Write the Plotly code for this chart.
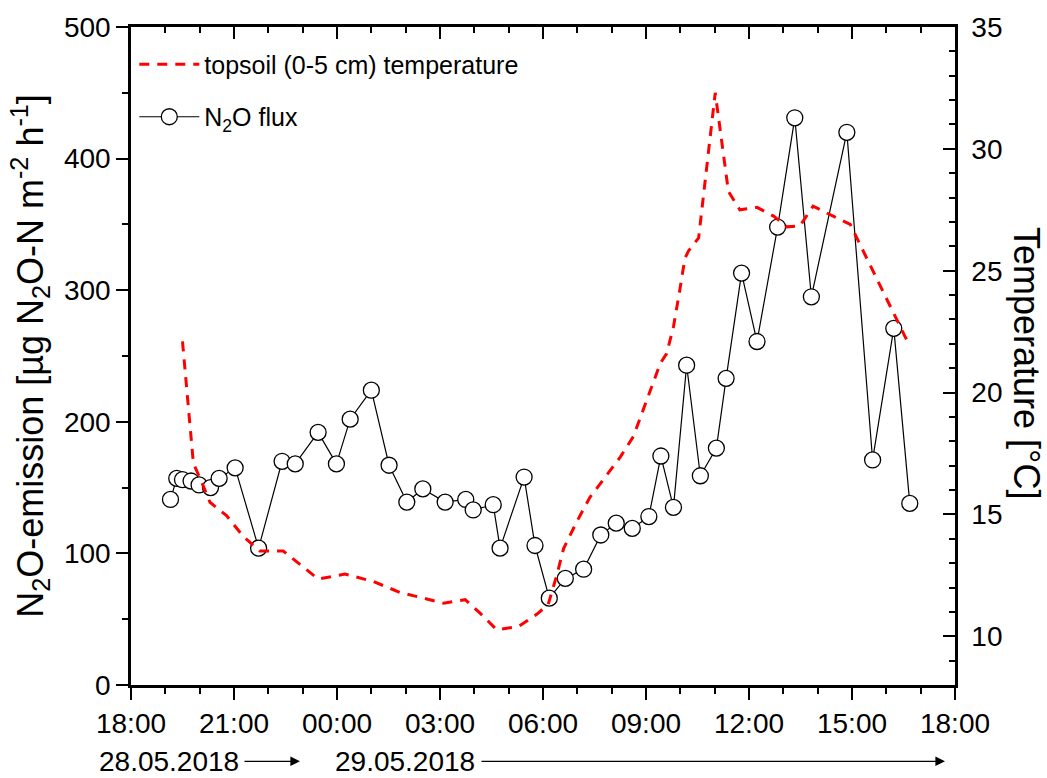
import plotly.graph_objects as go

# ---------------- data ----------------
flux_times = [
    "2018-05-28 19:09", "2018-05-28 19:20", "2018-05-28 19:30", "2018-05-28 19:45",
    "2018-05-28 19:59", "2018-05-28 20:19", "2018-05-28 20:34", "2018-05-28 21:02",
    "2018-05-28 21:43", "2018-05-28 22:24", "2018-05-28 22:47", "2018-05-28 23:27",
    "2018-05-28 23:59", "2018-05-29 00:23", "2018-05-29 01:00", "2018-05-29 01:31",
    "2018-05-29 02:02", "2018-05-29 02:30", "2018-05-29 03:09", "2018-05-29 03:45",
    "2018-05-29 03:58", "2018-05-29 04:33", "2018-05-29 04:45", "2018-05-29 05:27",
    "2018-05-29 05:46", "2018-05-29 06:11", "2018-05-29 06:39", "2018-05-29 07:11",
    "2018-05-29 07:41", "2018-05-29 08:08", "2018-05-29 08:36", "2018-05-29 09:05",
    "2018-05-29 09:26", "2018-05-29 09:48", "2018-05-29 10:11", "2018-05-29 10:35",
    "2018-05-29 11:03", "2018-05-29 11:20", "2018-05-29 11:47", "2018-05-29 12:14",
    "2018-05-29 12:50", "2018-05-29 13:20", "2018-05-29 13:49", "2018-05-29 14:51",
    "2018-05-29 15:36", "2018-05-29 16:13", "2018-05-29 16:41",
]
flux_values = [
    141, 157, 156, 155, 152, 150, 157, 165, 104, 170, 168, 192, 168,
    202, 224, 167, 139, 149, 139, 141, 133, 137, 104, 158, 106, 66,
    81, 88, 114, 123, 119, 128, 174, 135, 243, 159, 180, 233, 313,
    261, 348, 431, 295, 420, 171, 271, 138,
]

temp_times = [
    "2018-05-28 19:30", "2018-05-28 19:49", "2018-05-28 20:04", "2018-05-28 20:18",
    "2018-05-28 20:47", "2018-05-28 21:16", "2018-05-28 21:45", "2018-05-28 22:26",
    "2018-05-28 23:27", "2018-05-29 00:14", "2018-05-29 01:03", "2018-05-29 01:50",
    "2018-05-29 03:06", "2018-05-29 03:44", "2018-05-29 04:10", "2018-05-29 04:39",
    "2018-05-29 05:17", "2018-05-29 05:49", "2018-05-29 06:09", "2018-05-29 06:24",
    "2018-05-29 06:36", "2018-05-29 06:59", "2018-05-29 07:22", "2018-05-29 07:51",
    "2018-05-29 08:15", "2018-05-29 08:38", "2018-05-29 09:01", "2018-05-29 09:25",
    "2018-05-29 09:36", "2018-05-29 09:48", "2018-05-29 09:59", "2018-05-29 10:08",
    "2018-05-29 10:14", "2018-05-29 10:32", "2018-05-29 11:01", "2018-05-29 11:18",
    "2018-05-29 11:24", "2018-05-29 11:44", "2018-05-29 12:14", "2018-05-29 12:43",
    "2018-05-29 13:06", "2018-05-29 13:29", "2018-05-29 13:52", "2018-05-29 14:27",
    "2018-05-29 14:57", "2018-05-29 15:26", "2018-05-29 16:06", "2018-05-29 16:41",
]
temp_values = [
    22.1, 17.1, 16.3, 15.5, 14.95, 14.1, 13.5, 13.5, 12.35, 12.55, 12.25, 11.8,
    11.36, 11.5, 10.95, 10.27, 10.4, 10.9, 11.3, 12.5, 13.6, 14.7, 15.7, 16.6,
    17.35, 18.2, 19.7, 21.2, 21.6, 22.7, 24.2, 25.5, 25.8, 26.35, 32.3, 29.3,
    28.25, 27.5, 27.6, 27.24, 26.8, 26.84, 27.65, 27.24, 26.9, 25.5, 23.6, 21.9,
]

x_range = ["2018-05-28 18:00", "2018-05-29 18:00"]
date_labels = ["28.05.2018", "29.05.2018"]

FONT = "Arial, Liberation Sans, sans-serif"

fig = go.Figure()

fig.add_trace(go.Scatter(
    x=temp_times, y=temp_values, yaxis="y2", mode="lines",
    name="topsoil (0-5 cm) temperature",
    line=dict(color="#ff0000", width=3, dash="10px,8px"),
    legendgroup="a",
))
fig.add_trace(go.Scatter(
    x=flux_times, y=flux_values, mode="lines+markers",
    name="N<sub>2</sub>O flux",
    line=dict(color="black", width=1.2),
    marker=dict(symbol="circle", size=16, color="white",
                line=dict(color="black", width=1.3)),
    legendgroup="b",
))
# helper trace for the mirrored top axis (invisible)
fig.add_trace(go.Scatter(
    x=x_range, y=[250, 250], xaxis="x2", mode="lines",
    line=dict(width=0), opacity=0, showlegend=False, hoverinfo="skip",
))

tickfont = dict(family=FONT, size=28, color="black")

fig.update_layout(
    width=1047, height=778,
    margin=dict(l=131, r=92, t=21, b=93),
    paper_bgcolor="white", plot_bgcolor="white",
    font=dict(family=FONT, color="black"),
    showlegend=True,
    legend=dict(
        x=0.004, y=0.978, xanchor="left", yanchor="top",
        font=dict(family=FONT, size=25, color="black"),
        bgcolor="rgba(0,0,0,0)", itemwidth=60,
        tracegroupgap=17, traceorder="grouped",
    ),
    xaxis=dict(
        type="date", range=x_range,
        dtick=3 * 3600 * 1000, tick0="2018-05-28 18:00", tickformat="%H:%M",
        ticks="outside", ticklen=12, tickwidth=2, tickcolor="black",
        minor=dict(dtick=3600 * 1000, ticks="outside", ticklen=6,
                   tickwidth=2, tickcolor="black"),
        showline=True, linewidth=2.5, linecolor="black",
        showgrid=False, zeroline=False, tickfont=tickfont,
    ),
    xaxis2=dict(
        type="date", range=x_range, overlaying="x", side="top",
        dtick=3 * 3600 * 1000, tick0="2018-05-28 18:00",
        ticks="inside", ticklen=12, tickwidth=2, tickcolor="black",
        minor=dict(dtick=3600 * 1000, ticks="inside", ticklen=6,
                   tickwidth=2, tickcolor="black"),
        showline=True, linewidth=2.5, linecolor="black",
        showticklabels=False, showgrid=False, zeroline=False,
    ),
    yaxis=dict(
        range=[0, 500], dtick=100, tick0=0,
        ticks="outside", ticklen=12, tickwidth=2, tickcolor="black",
        minor=dict(dtick=50, ticks="outside", ticklen=6,
                   tickwidth=2, tickcolor="black"),
        showline=True, linewidth=2.5, linecolor="black",
        showgrid=False, zeroline=False, tickfont=tickfont,
        title=dict(
            text="N<sub>2</sub>O-emission [µg N<sub>2</sub>O-N m<sup>-2</sup> h<sup>-1</sup>]",
            font=dict(family=FONT, size=36, color="black"), standoff=10,
        ),
    ),
    yaxis2=dict(
        range=[8, 35], overlaying="y", side="right",
        tickvals=[10, 15, 20, 25, 30, 35],
        ticks="inside", ticklen=12, tickwidth=2, tickcolor="black",
        minor=dict(dtick=1, tick0=0, ticks="inside", ticklen=6,
                   tickwidth=2, tickcolor="black"),
        showline=True, linewidth=2.5, linecolor="black",
        showgrid=False, zeroline=False, tickfont=tickfont,
        ticklabelstandoff=8,
    ),
)

# right axis title, rotated to read top-to-bottom
fig.add_annotation(
    text="Temperature [°C]", xref="paper", yref="paper",
    x=1.0 + (1026 - 955) / 824, y=(685 - 360) / 664,
    xanchor="center", yanchor="middle", textangle=90, showarrow=False,
    font=dict(family=FONT, size=36, color="black"),
)

# date labels with arrows below the x axis
y_date = -(762 - 685) / 664
fig.add_annotation(text=date_labels[0], xref="paper", yref="paper",
                   x=(169 - 131) / 824, y=y_date, showarrow=False,
                   xanchor="center", yanchor="middle",
                   font=dict(family=FONT, size=28, color="black"))
fig.add_annotation(text=date_labels[1], xref="paper", yref="paper",
                   x=(405 - 131) / 824, y=y_date, showarrow=False,
                   xanchor="center", yanchor="middle",
                   font=dict(family=FONT, size=28, color="black"))
fig.add_annotation(text="", xref="paper", yref="paper",
                   x=(300 - 131) / 824, y=y_date, ax=-57, ay=0,
                   showarrow=True, arrowhead=2, arrowsize=1.6, arrowwidth=1.2,
                   arrowcolor="black")
fig.add_annotation(text="", xref="paper", yref="paper",
                   x=(945 - 131) / 824, y=y_date, ax=-465, ay=0,
                   showarrow=True, arrowhead=2, arrowsize=1.6, arrowwidth=1.2,
                   arrowcolor="black")

fig.write_html("out.html")
